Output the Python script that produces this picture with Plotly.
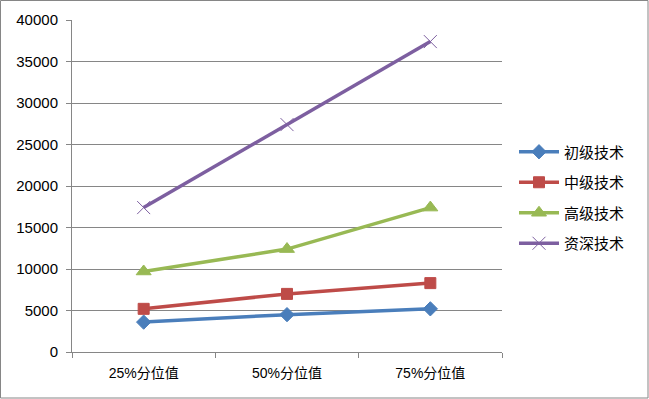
import plotly.graph_objects as go

categories = ["25%分位值", "50%分位值", "75%分位值"]
series_names = ["初级技术", "中级技术", "高级技术", "资深技术"]
junior = [3600, 4500, 5200]
middle = [5200, 7000, 8300]
senior = [9700, 12400, 17400]
expert = [17400, 27400, 37400]
y_ticks = [0, 5000, 10000, 15000, 20000, 25000, 30000, 35000, 40000]
y_tick_text = [str(v) for v in y_ticks]

colors = ["#4A7EBB", "#BE4B48", "#98B954", "#7D5FA0"]
symbols = ["diamond", "square", "triangle-up", "x-thin-open"]
sizes = [11, 11, 13, 13]

fig = go.Figure()
for name, vals, c, s, sz in zip(series_names, [junior, middle, senior, expert], colors, symbols, sizes):
    fig.add_trace(go.Scatter(
        x=categories, y=vals, name=name, mode="lines+markers", legendgroup=name,
        line=dict(color=c, width=3.5),
        marker=dict(symbol=s, size=sz, color=c, line=dict(color=c, width=1)),
    ))

L, R, T, B = 72, 502, 20, 352
W, H = 649, 399
pw, ph = R - L, B - T

fig.update_layout(
    width=W, height=H,
    margin=dict(l=L, r=W - R, t=T, b=H - B),
    paper_bgcolor="white", plot_bgcolor="white",
    font=dict(family="Liberation Sans, Noto Sans CJK SC", size=13, color="#000000"),
    showlegend=True,
    legend=dict(x=(514 - L) / pw, y=(B - 197.5) / ph, xanchor="left", yanchor="middle",
                font=dict(family="Noto Sans CJK SC", size=15), bgcolor="rgba(0,0,0,0)",
                tracegroupgap=8, itemwidth=40),
    xaxis=dict(type="category", range=[-0.5, 2.5], showgrid=False,
               showline=True, linecolor="#868686", linewidth=1,
               ticks="outside", tickson="boundaries", ticklen=5, tickcolor="#868686",
               tickfont=dict(family="Liberation Sans, Noto Sans CJK SC", size=14),
               ticklabelstandoff=8),
    yaxis=dict(range=[0, 40000], tickvals=y_ticks, ticktext=y_tick_text,
               showgrid=True, gridcolor="#868686", gridwidth=1,
               showline=True, linecolor="#868686", linewidth=1,
               ticks="outside", ticklen=5, tickcolor="#868686", zeroline=False,
               tickfont=dict(family="Liberation Sans", size=15), ticklabelstandoff=5),
    shapes=[dict(type="rect", xref="paper", yref="paper",
                 x0=(0.5 - L) / pw, x1=(648 - L) / pw,
                 y0=(B - 398) / ph, y1=(B - 0.5) / ph,
                 line=dict(color="#868686", width=1), fillcolor="rgba(0,0,0,0)", layer="below")],
)

fig.write_html("out.html", config={"displayModeBar": False},
               post_script="document.body.style.margin='0';document.body.style.overflow='hidden';")
